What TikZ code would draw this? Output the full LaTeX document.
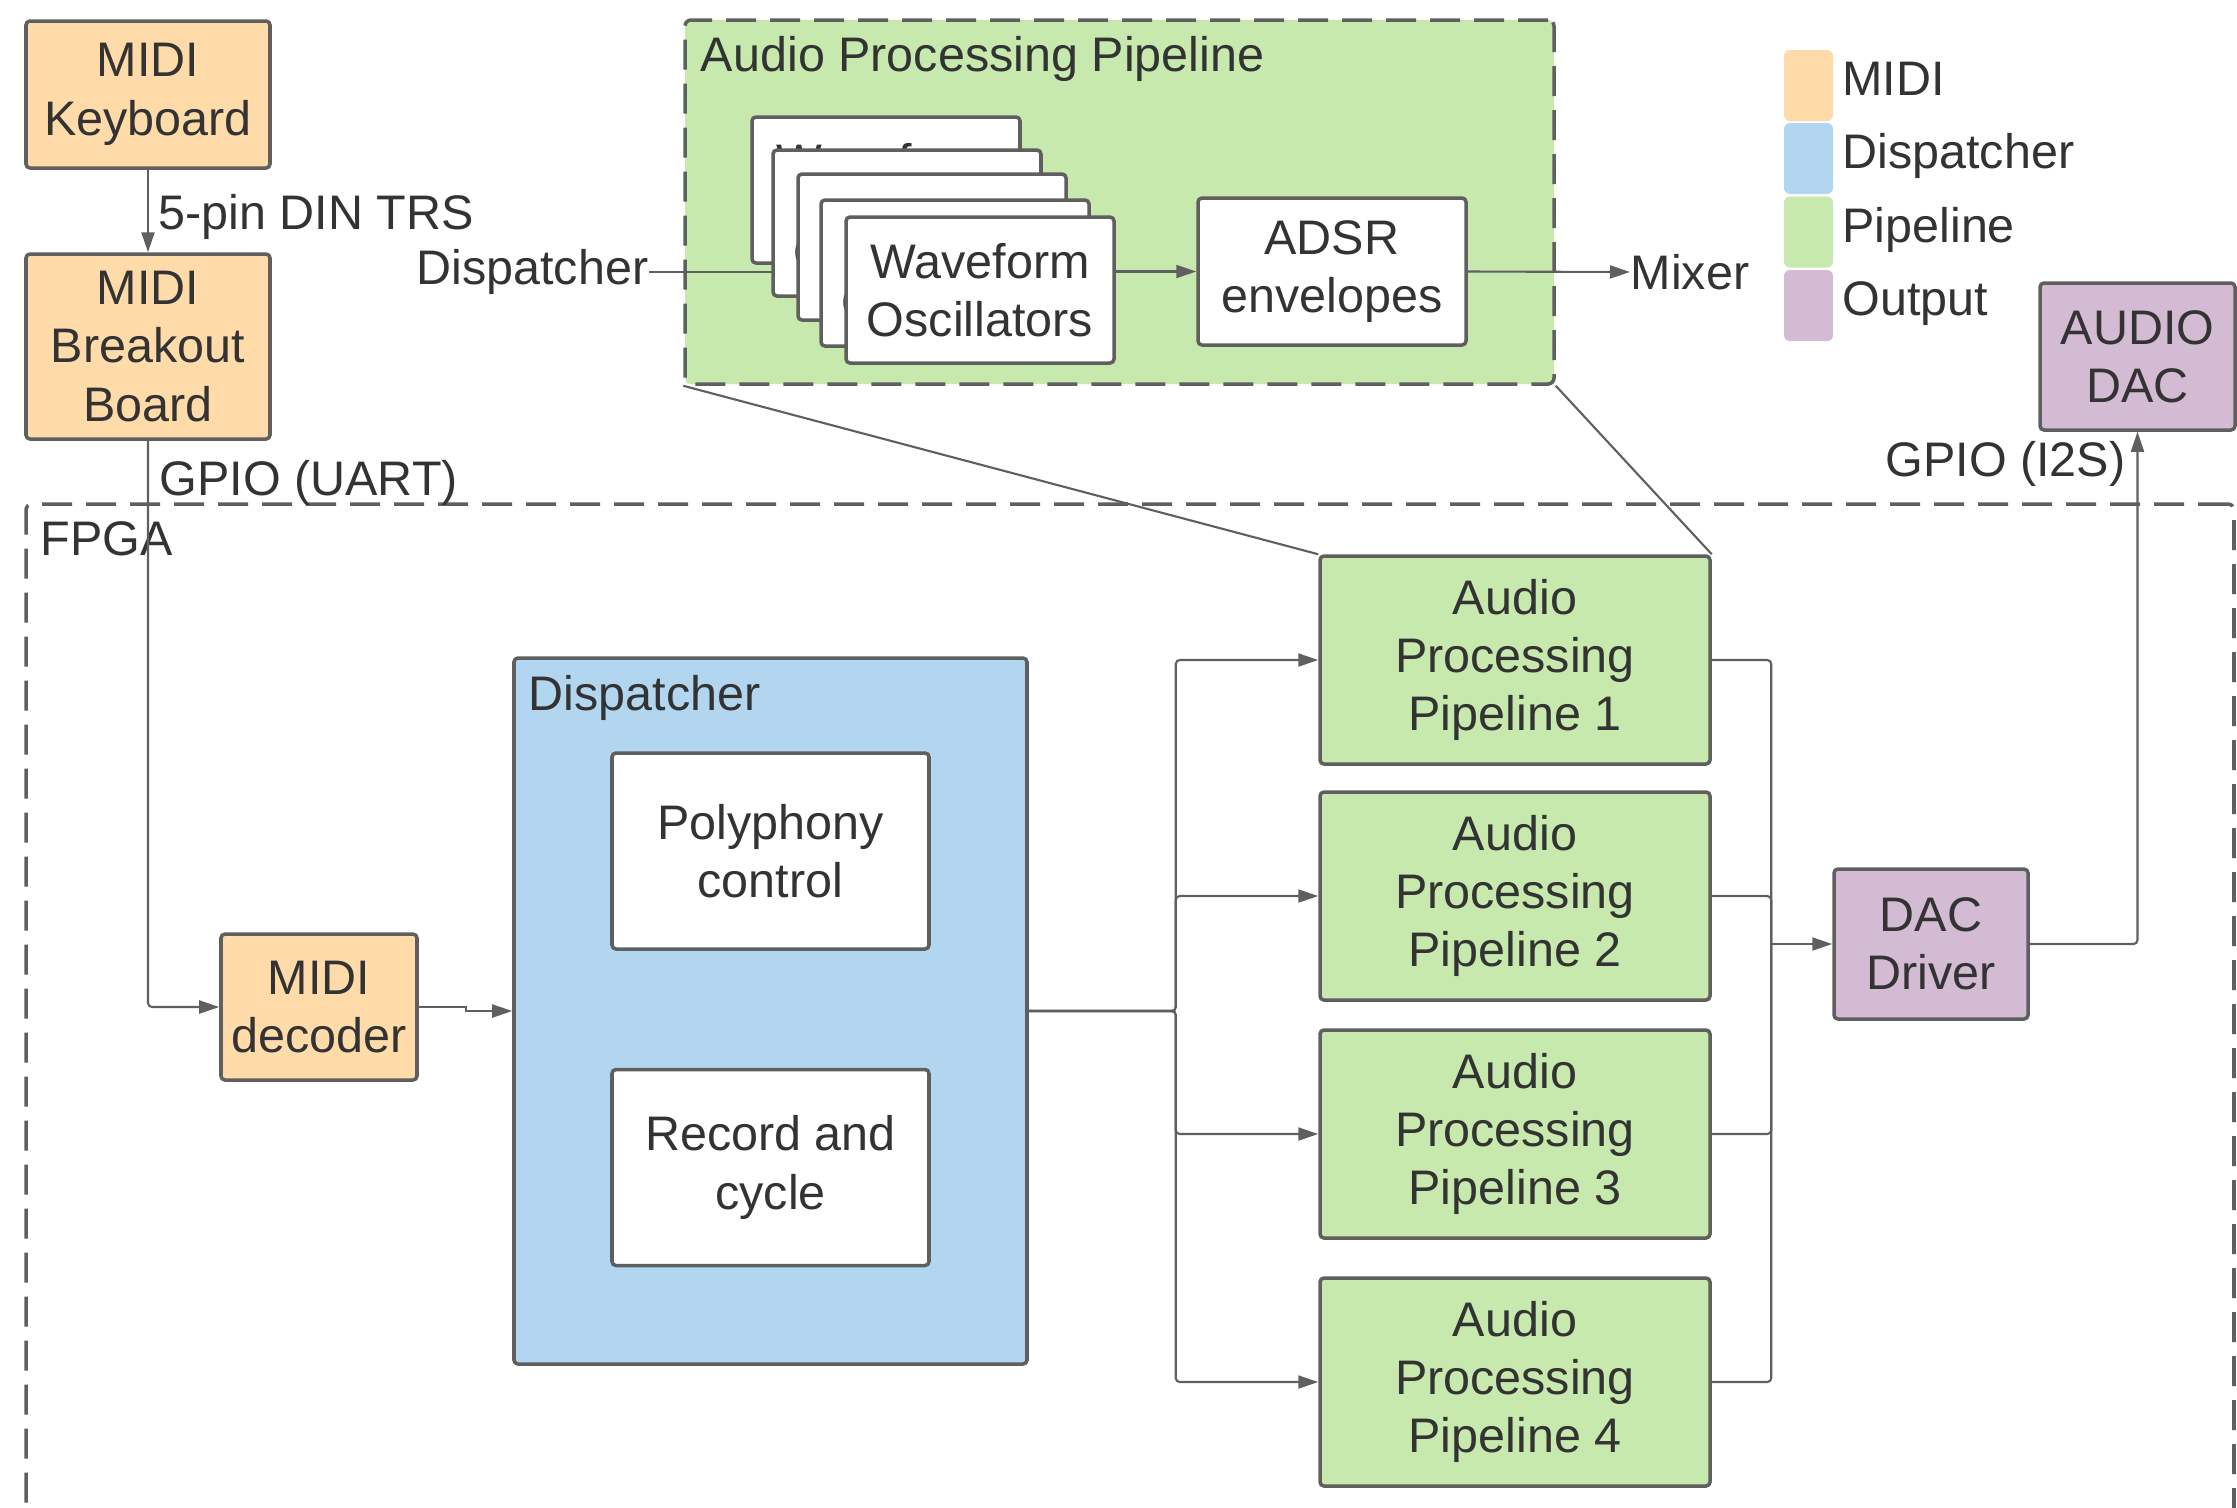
\documentclass[tikz,border=0pt]{standalone}
\usepackage{fontspec}
\setmainfont{Liberation Sans}
\usetikzlibrary{arrows.meta}

\definecolor{midiorange}{HTML}{FFDBA9}
\definecolor{dispblue}{HTML}{B3D6F0}
\definecolor{pipegreen}{HTML}{C7E9AD}
\definecolor{outpurple}{HTML}{D3BBD3}
\definecolor{edgegray}{HTML}{5F5F5F}
\definecolor{textgray}{HTML}{333333}

\begin{document}
\begin{tikzpicture}[
    x=0.1mm, y=-0.1mm,
    every node/.style={text=textgray, font=\fontsize{13.8}{16.6}\selectfont},
    block/.style={draw=edgegray, line width=1pt, rounded corners=0.4mm,
      inner sep=0pt, align=center},
    midiblock/.style={block, fill=midiorange},
    pipeblock/.style={block, fill=pipegreen, minimum width=39mm, minimum height=20.8mm},
    outblock/.style={block, fill=outpurple},
    whiteblock/.style={block, fill=white},
    group/.style={draw=edgegray, line width=1pt, dash pattern=on 3mm off 1.4mm,
      rounded corners=0.6mm, inner sep=0pt},
    conn/.style={draw=edgegray, line width=0.6pt, rounded corners=0.4mm},
    arr/.style={conn, -{Triangle[length=2mm, width=1.3mm]}},
    lbl/.style={inner sep=0pt},
    legendkey/.style={minimum width=4.9mm, minimum height=7.1mm, inner sep=0pt,
      rounded corners=0.6mm}
  ]
  \useasboundingbox (0,0) rectangle (2237,1507);

  % FPGA frame
  \node[group, minimum width=220.8mm, minimum height=105.6mm] (fpga) at (1130,1032) {};
  \node[lbl, anchor=base west] at ([xshift=1.6mm, yshift=-5.3mm]fpga.north west) {FPGA};

  % Audio processing pipeline detail
  \node[group, fill=pipegreen, minimum width=86.9mm, minimum height=36.4mm] (app) at (1119.5,202) {};
  \node[lbl, anchor=base west] at ([xshift=1.7mm, yshift=-5.3mm]app.north west) {Audio Processing Pipeline};

  \node[lbl, anchor=east] (dispin) at (649,272) {Dispatcher};
  \coordinate (wvin) at (798,272);
  \draw[conn] (dispin.east) -- (wvin);

  % Oscillator stack
  \foreach \i/\x/\y in {1/886/190, 2/907/223, 3/932/247, 4/955/273, 5/980/290}
    \node[whiteblock, minimum width=26.8mm, minimum height=14.6mm] (wv\i) at (\x,\y)
      {Waveform\\Oscillators};

  \node[whiteblock, minimum width=26.8mm, minimum height=14.7mm] (adsr) at (1332,271.5)
    {ADSR\\envelopes};
  \node[lbl, anchor=west] (mixer) at (1630,272) {Mixer};

  \draw[arr] (wv5.east |- adsr.west) -- (adsr.west);
  \draw[arr] (adsr.east) -- (mixer.west);

  % Legend
  \foreach \c/\t/\y in {midiorange/MIDI/85.5, dispblue/Dispatcher/158.5,
      pipegreen/Pipeline/232, outpurple/Output/305.5} {
    \node[legendkey, fill=\c] (key\t) at (1808.5,\y) {};
    \node[lbl, anchor=base west] at ([xshift=0.8mm, yshift=-1mm]key\t.east) {\t};
  }

  % MIDI input chain
  \node[midiblock, minimum width=24.4mm, minimum height=14.7mm] (kbd) at (148,94.5)
    {MIDI\\Keyboard};
  \node[midiblock, minimum width=24.4mm, minimum height=18.5mm] (bob) at (148,346.5)
    {MIDI\\Breakout\\Board};
  \node[midiblock, minimum width=19.6mm, minimum height=14.6mm] (dec) at (319,1007)
    {MIDI\\decoder};

  \draw[arr] (kbd.south) -- (bob.north);
  \node[lbl, anchor=base west] at (158,229) {5-pin DIN TRS};
  \draw[arr] (bob.south) |- (dec.west);
  \node[lbl, anchor=base west] at (159,495) {GPIO (UART)};

  % Dispatcher
  \node[block, fill=dispblue, minimum width=51.3mm, minimum height=70.6mm] (disp) at (770.5,1011) {};
  \node[lbl, anchor=base west] at ([xshift=1.6mm, yshift=-5.4mm]disp.north west) {Dispatcher};
  \node[whiteblock, minimum width=31.7mm, minimum height=19.6mm] (poly) at (770.5,851)
    {Polyphony\\control};
  \node[whiteblock, minimum width=31.7mm, minimum height=19.6mm] (rec) at (770.5,1167.5)
    {Record and\\cycle};

  \draw[arr, sharp corners] (dec.east) -- ++(47,0) |- (disp.west);

  % Pipelines
  \foreach \i/\y in {1/660, 2/896, 3/1134, 4/1382}
    \node[pipeblock] (p\i) at (1515,\y) {Audio\\Processing\\Pipeline \i};

  \draw[conn] (app.south west) -- (p1.north west);
  \draw[conn] (app.south east) -- (p1.north east);

  \coordinate (busL) at ([xshift=14.7mm]disp.east);
  \foreach \i in {1,...,4}
    \draw[arr] (disp.east) -- (busL) |- (p\i.west);

  % Output
  \node[outblock, minimum width=19.4mm, minimum height=15mm] (dac) at (1931,944)
    {DAC\\Driver};
  \node[outblock, minimum width=19.5mm, minimum height=14.7mm] (adac) at (2137.5,356.5)
    {AUDIO\\DAC};

  \coordinate (busR) at ([xshift=-6.1mm]dac.west);
  \foreach \i in {1,...,4}
    \draw[conn] (p\i.east) -| (busR);
  \draw[arr] (busR) -- (dac.west);

  \draw[arr] (dac.east) -| (adac.south);
  \node[lbl, anchor=base east] at (2126,476) {GPIO (I2S)};
\end{tikzpicture}
\end{document}
